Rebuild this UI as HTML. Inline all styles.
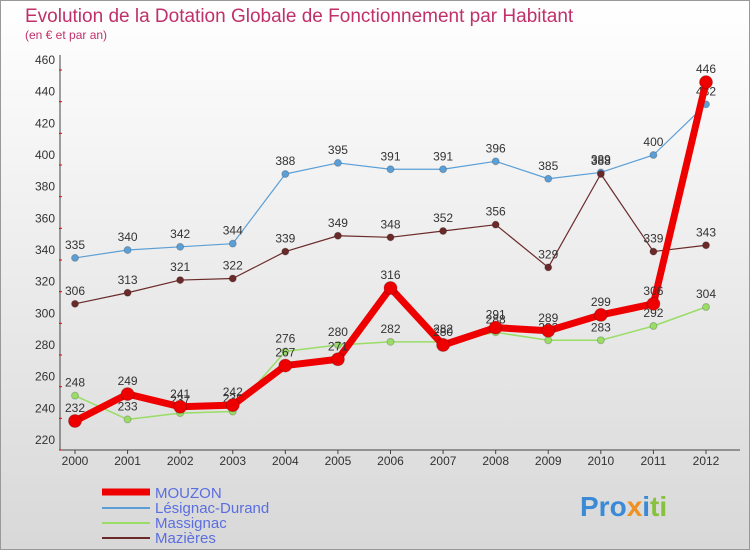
<!DOCTYPE html>
<html><head><meta charset="utf-8"><style>
body{margin:0;}
svg text{font-family:"Liberation Sans",sans-serif;}
</style></head><body>
<svg id="chart" width="750" height="550" xmlns="http://www.w3.org/2000/svg">
<defs><linearGradient id="bg" x1="0" y1="0" x2="0" y2="1"><stop offset="0" stop-color="#ffffff"/><stop offset="1" stop-color="#d8d8d8"/></linearGradient></defs>
<rect x="0.5" y="0.5" width="749" height="549" fill="url(#bg)" stroke="#999"/>
<text x="25" y="22" font-size="19" fill="#c0306a">Evolution de la Dotation Globale de Fonctionnement par Habitant</text>
<text x="25" y="39" font-size="12" fill="#c0306a">(en € et par an)</text>
<line x1="60" y1="55" x2="60" y2="450" stroke="#444"/>
<line x1="60" y1="450" x2="740" y2="450" stroke="#444"/>
<g id="axes"></g><g id="series"></g>
<g>
<line x1="102" y1="492" x2="150" y2="492" stroke="#e00" stroke-width="7"/>
<text x="155" y="498" font-size="15" fill="#5a6ee0">MOUZON</text>
<line x1="102" y1="508" x2="150" y2="508" stroke="#5b9fd6" stroke-width="2"/>
<text x="155" y="513" font-size="15" fill="#5a6ee0">Lésignac-Durand</text>
<line x1="102" y1="523" x2="150" y2="523" stroke="#99dd66" stroke-width="2"/>
<text x="155" y="528" font-size="15" fill="#5a6ee0">Massignac</text>
<line x1="102" y1="538" x2="150" y2="538" stroke="#6b2a2a" stroke-width="2"/>
<text x="155" y="543" font-size="15" fill="#5a6ee0">Mazières</text>
</g>
<text x="580" y="516" font-size="28" font-weight="bold" fill="#3a8ad6">Pro<tspan fill="#f09020">x</tspan><tspan fill="#3a8ad6">i</tspan><tspan fill="#88c040">ti</tspan></text>
</svg>
<script>
const years=[2000,2001,2002,2003,2004,2005,2006,2007,2008,2009,2010,2011,2012];
const yTicks=[220,240,260,280,300,320,340,360,380,400,420,440,460];
const mouzon=[232,249,241,242,267,271,316,280,291,289,299,306,446];
const lesignac=[335,340,342,344,388,395,391,391,396,385,389,400,432];
const massignac=[248,233,237,238,276,280,282,282,288,283,283,292,304];
const mazieres=[306,313,321,322,339,349,348,352,356,329,388,339,343];
const NS="http://www.w3.org/2000/svg";
const xs=i=>75+i*(706-75)/(years.length-1);
const ys=v=>440-(v-220)*380/240;
function mk(t,a,p){const e=document.createElementNS(NS,t);for(const k in a)e.setAttribute(k,a[k]);p.appendChild(e);return e;}
const ax=document.getElementById('axes');
yTicks.forEach(v=>{
const t=mk('text',{x:55,y:ys(v)+4,'font-size':12,fill:'#333','text-anchor':'end'},ax);t.textContent=v;


const r=mk('line',{x1:59,x2:62,y1:ys(v)+10,y2:ys(v)+10,stroke:'#e00'},ax);


});
years.forEach((y,i)=>{
const t=mk('text',{x:xs(i),y:465,'font-size':12,fill:'#333','text-anchor':'middle'},ax);t.textContent=y;


const l=mk('line',{x1:xs(i),x2:xs(i),y1:450,y2:454,stroke:'#444'},ax);


});
const sg=document.getElementById('series');
function draw(name,vals,color,w,r){
const g=mk('g',{},sg);


const pl=mk('polyline',{points:vals.map((v,i)=>xs(i)+','+ys(v)).join(' '),fill:'none',stroke:color,'stroke-width':w,'stroke-linejoin':'round'},g);


vals.forEach((v,i)=>{
const c=mk('circle',{cx:xs(i),cy:ys(v),r:r,fill:color,stroke:'rgba(0,0,0,0.2)'},g);


const t=mk('text',{x:xs(i),y:ys(v)-9,'font-size':12,fill:'#333','text-anchor':'middle'},g);t.textContent=v;


});
}
draw('lesignac',lesignac,'#5b9fd6',1.2,3.5);
draw('mazieres',mazieres,'#6b2a2a',1.2,3.5);
draw('massignac',massignac,'#99dd66',1.5,3.5);
draw('mouzon',mouzon,'#ee0000',7,6.5);
</script>
</body></html>
